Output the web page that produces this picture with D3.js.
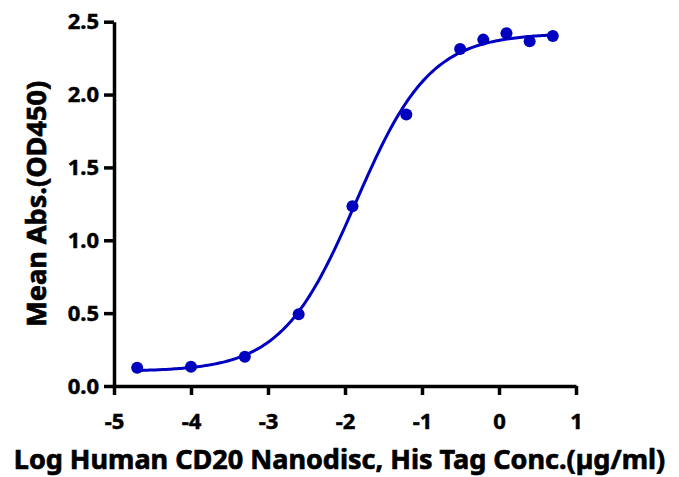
<!DOCTYPE html>
<html>
<head>
<meta charset="utf-8">
<script src="https://cdn.jsdelivr.net/npm/d3@7"></script>
<style>
  body { margin: 0; background: #fff; }
  svg text { font-family: "Noto Sans", "Open Sans", sans-serif; font-weight: 700; fill: #000; stroke: #000; stroke-width: 0.7px; }
  .axis .domain, .axis .tick line { stroke: #000; stroke-width: 3.5px; }
</style>
</head>
<body>
<div id="chart"></div>
<script>
// measured points: log10 concentration vs mean OD450
var logConc = [-4.699, -4.0, -3.301, -2.602, -1.903, -1.204, -0.505, -0.204, 0.097, 0.398, 0.699];
var meanAbs = [0.125, 0.132, 0.20, 0.493, 1.233, 1.863, 2.313, 2.377, 2.42, 2.365, 2.402];

// 4PL fit
var fitBottom = 0.1, fitTop = 2.42, fitLogEC50 = -1.86, fitHill = 0.9;

var xTicks = [-5, -4, -3, -2, -1, 0, 1];
var yTicks = [0, 0.5, 1.0, 1.5, 2.0, 2.5];

var w = 679, h = 477;
var margin = {left: 114, right: 103, top: 21.7, bottom: 91};

var svg = d3.select("#chart").append("svg").attr("width", w).attr("height", h);

var xscale = d3.scaleLinear().domain([-5, 1]).range([margin.left, w - margin.right]);
var yscale = d3.scaleLinear().domain([0, 2.5]).range([h - margin.bottom, margin.top]);

var blue = "#0000c0";

// curve
var curve = d3.range(0, 201).map(function(i) {
  var x = logConc[0] + (logConc[logConc.length - 1] - logConc[0]) * i / 200;
  var y = fitBottom + (fitTop - fitBottom) / (1 + Math.pow(10, (fitLogEC50 - x) * fitHill));
  return [x, y];
});
svg.append("path").datum(curve)
  .attr("d", d3.line().x(d => xscale(d[0])).y(d => yscale(d[1])))
  .attr("fill", "none").attr("stroke", blue).attr("stroke-width", 3);

// points
svg.selectAll("circle.pt").data(logConc).enter().append("circle")
  .attr("class", "pt")
  .attr("cx", d => xscale(d))
  .attr("cy", (d, i) => yscale(meanAbs[i]))
  .attr("r", 6).attr("fill", blue);

// axes
var xaxis = d3.axisBottom(xscale).tickValues(xTicks).tickSize(9).tickSizeOuter(0).tickPadding(18)
  .tickFormat(d3.format("d"));
var yaxis = d3.axisLeft(yscale).tickValues(yTicks).tickSize(10).tickSizeOuter(0).tickPadding(5)
  .tickFormat(d3.format(".1f"));

var gx = svg.append("g").attr("class", "axis").attr("transform", "translate(0," + (h - margin.bottom) + ")").call(xaxis);
var gy = svg.append("g").attr("class", "axis").attr("transform", "translate(" + margin.left + ",0)").call(yaxis);

[gx, gy].forEach(function(g) {
  g.attr("font-family", null).attr("font-size", null);
  g.selectAll(".tick text").style("font-size", "22px").style("stroke-width", "0.5px");
});
gx.selectAll(".tick text").text(d => d < 0 ? "-" + Math.abs(d) : d);

// fit a text to a given width by scaling its font size
function fitText(sel, target) {
  var len = sel.node().getComputedTextLength();
  var fs = parseFloat(sel.style("font-size"));
  sel.style("font-size", (fs * target / len) + "px");
}

// titles
var xt = svg.append("text")
  .attr("x", w / 2).attr("y", 469)
  .attr("text-anchor", "middle")
  .style("font-size", "27px")
  .text("Log Human CD20 Nanodisc, His Tag Conc.(µg/ml)");
fitText(xt, 652);

var yt = svg.append("text")
  .attr("transform", "translate(46," + (yscale(1.25)) + ") rotate(-90)")
  .attr("text-anchor", "middle")
  .style("font-size", "26px")
  .text("Mean Abs.(OD450)");
fitText(yt, 246);
</script>
</body>
</html>
